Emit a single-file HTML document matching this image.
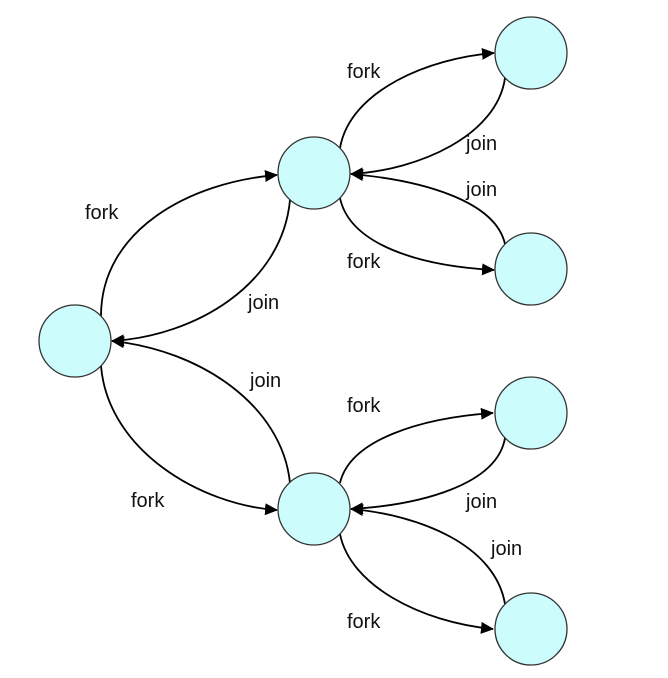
<!DOCTYPE html>
<html><head><meta charset="utf-8"><style>
html,body{margin:0;padding:0;background:#fff;}
svg{display:block;}
text{font-family:"Liberation Sans","DejaVu Sans",sans-serif;font-size:20px;fill:#111;}
</style></head><body>
<svg width="668" height="678" viewBox="0 0 668 678" xmlns="http://www.w3.org/2000/svg">
<defs>
<marker id="a" markerWidth="13" markerHeight="12" refX="12" refY="6" orient="auto" markerUnits="userSpaceOnUse">
<path d="M0,0 L13,6 L0,12 z" fill="#000"/>
</marker>
</defs>
<g fill="none" stroke="#000" stroke-width="1.8">
<path d="M101,316 C101,230 190,182 277,175" marker-end="url(#a)"/>
<path d="M290,200 C282,285 195,336 112,341" marker-end="url(#a)"/>
<path d="M290,483 C282,405 200,350 112,341" marker-end="url(#a)"/>
<path d="M101,366 C108,450 200,505 277,510" marker-end="url(#a)"/>

<path d="M340,148 C350,90 430,58 494,53" marker-end="url(#a)"/>
<path d="M505,78 C497,135 420,170 351,174" marker-end="url(#a)"/>
<path d="M505,244 C495,200 420,180 351,174" marker-end="url(#a)"/>
<path d="M340,198 C350,245 420,266 494,270" marker-end="url(#a)"/>

<path d="M340,483 C350,440 420,418 493,413" marker-end="url(#a)"/>
<path d="M505,438 C497,485 420,505 351,509" marker-end="url(#a)"/>
<path d="M505,604 C495,545 420,515 351,509" marker-end="url(#a)"/>
<path d="M340,534 C350,585 420,622 493,629" marker-end="url(#a)"/>
</g>
<g fill="#ccfcfc" stroke="#333" stroke-width="1.3">
<circle cx="75" cy="341" r="36"/>
<circle cx="314" cy="173" r="36"/>
<circle cx="314" cy="509" r="36"/>
<circle cx="531" cy="53" r="36"/>
<circle cx="531" cy="269" r="36"/>
<circle cx="531" cy="413" r="36"/>
<circle cx="531" cy="629" r="36"/>
</g>
<text x="85" y="219">fork</text>
<text x="248" y="309">join</text>
<text x="250" y="387">join</text>
<text x="131" y="507">fork</text>
<text x="347" y="78">fork</text>
<text x="466" y="150">join</text>
<text x="466" y="196">join</text>
<text x="347" y="268">fork</text>
<text x="347" y="412">fork</text>
<text x="466" y="508">join</text>
<text x="491" y="555">join</text>
<text x="347" y="628">fork</text>
</svg>
</body></html>
